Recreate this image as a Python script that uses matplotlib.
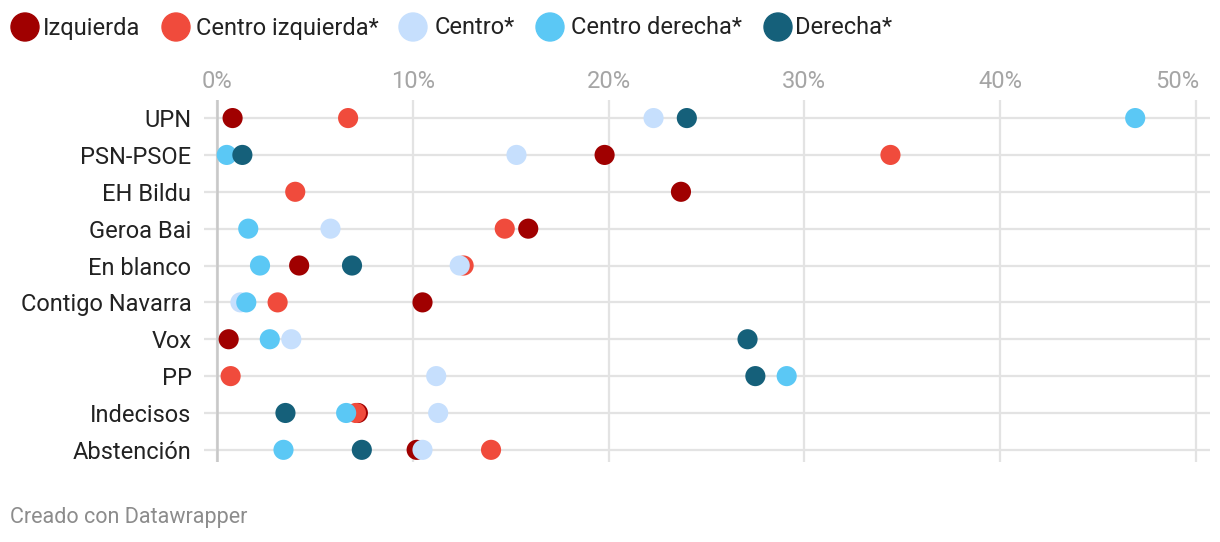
import numpy as np
import matplotlib.pyplot as plt
from matplotlib.patches import Ellipse

plt.rcParams["font.family"] = ["Roboto", "DejaVu Sans"]

nan = np.nan

# rows, top to bottom
parties = ["UPN", "PSN-PSOE", "EH Bildu", "Geroa Bai", "En blanco",
           "Contigo Navarra", "Vox", "PP", "Indecisos", "Abstención"]

# share of each ideological group (%) per row
izquierda = [0.8, 19.8, 23.7, 15.9, 4.2, 10.5, 0.6, nan, 7.2, 10.2]
centro_izquierda = [6.7, 34.4, 4.0, 14.7, 12.6, 3.1, nan, 0.7, 7.1, 14.0]
centro = [22.3, 15.3, nan, 5.8, 12.4, 1.2, 3.8, 11.2, 11.3, 10.5]
centro_derecha = [46.9, 0.5, nan, 1.6, 2.2, 1.5, 2.7, 29.1, 6.6, 3.4]
derecha = [24.0, 1.3, nan, nan, 6.9, nan, 27.1, 27.5, 3.5, 7.4]

x_ticks = [0, 10, 20, 30, 40, 50]

series = [
    ("Izquierda", izquierda, "#a00000"),
    ("Centro izquierda*", centro_izquierda, "#f04b3c"),
    ("Centro*", centro, "#c6dffd"),
    ("Centro derecha*", centro_derecha, "#5bc8f5"),
    ("Derecha*", derecha, "#15607a"),
]

W, H = 1220, 542
fig = plt.figure(figsize=(W / 100, H / 100), dpi=100)
ax = fig.add_axes([204 / W, 1 - 462 / H, (1210 - 204) / W, 362 / H])

y = np.arange(len(parties))
for name, vals, color in series:
    ax.scatter(vals, y, s=210, color=color, edgecolors="none", zorder=3)

ax.set_xlim(-0.66, 50.72)
ax.set_ylim(len(parties) - 1 + 0.33, -0.49)

ax.set_yticks(y)
ax.set_yticklabels(parties, fontsize=17, color="#222222")
ax.set_xticks(x_ticks)
ax.set_xticklabels([])
ax.xaxis.tick_top()
ax.tick_params(axis="both", length=0)
ax.tick_params(axis="y", pad=9)

# percent labels above the plot; the last one sits left of its gridline
trans = ax.get_xaxis_transform()
for i, t in enumerate(x_ticks):
    last = i == len(x_ticks) - 1
    ax.text(t + (0.15 if last else 0), 1.052, f"{t}%", transform=trans,
            ha="right" if last else "center", va="center",
            fontsize=17, color="#a5a5a5")

for s in ax.spines.values():
    s.set_visible(False)

ax.grid(True, color="#e3e3e3", linewidth=1.6, zorder=0)
ax.set_axisbelow(True)
ax.axvline(0, color="#c8c8c8", linewidth=1.8, zorder=1)

# legend across the top
leg_x = [25, 176, 413, 550, 778]
leg_tx = [43, 196, 435, 571, 795]
for (name, vals, color), lx, tx in zip(series, leg_x, leg_tx):
    fig.patches.append(Ellipse((lx / W, 1 - 27 / H), 28 / W, 28 / H,
                               transform=fig.transFigure, color=color))
    fig.text(tx / W, 1 - 28 / H, name, fontsize=17,
             color="#222222", va="center", ha="left")

fig.text(10 / W, 1 - 517 / H, "Creado con Datawrapper", fontsize=15.5,
         color="#8c8c8c", va="center", ha="left")

fig.savefig("out.png", dpi=100)
